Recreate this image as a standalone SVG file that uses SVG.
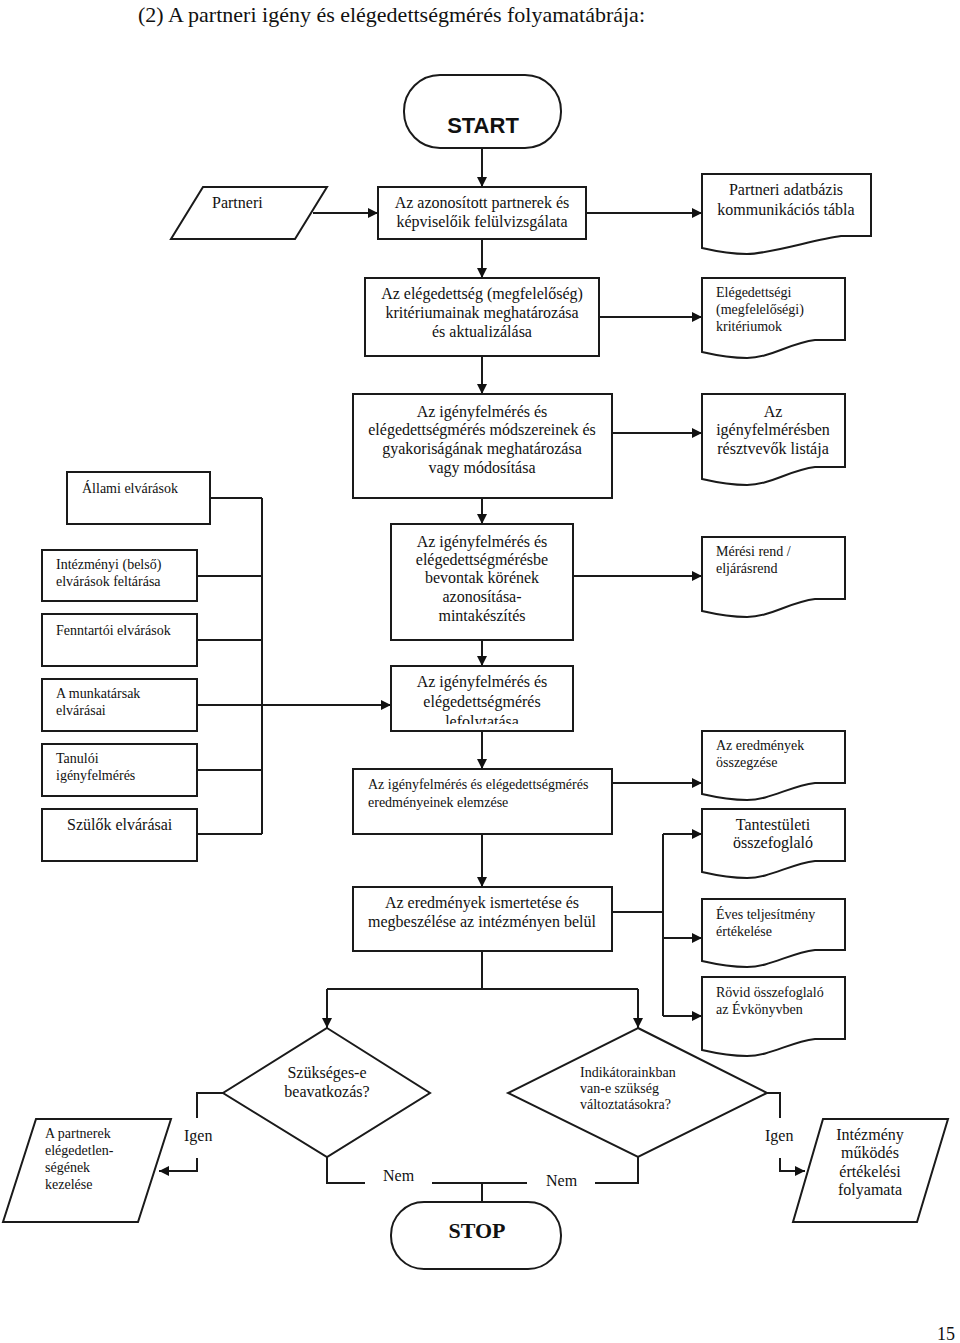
<svg xmlns="http://www.w3.org/2000/svg" width="960" height="1343" viewBox="0 0 960 1343">
<style>
.s{fill:#fff;stroke:#1a1a1a;stroke-width:2}
.c{fill:none;stroke:#1a1a1a;stroke-width:2}
text{font-family:"Liberation Serif","Times New Roman",serif;fill:#111}
.t16{font-size:16px}
.t14{font-size:14px}
.m{text-anchor:middle}
</style>
<defs>
<marker id="ah" markerWidth="10" markerHeight="10" refX="10" refY="5" orient="auto" markerUnits="userSpaceOnUse">
<path d="M0,0 L10,5 L0,10 Z" fill="#111"/>
</marker>
<clipPath id="clip5"><rect x="391" y="666" width="182" height="58"/></clipPath>
</defs>
<rect width="960" height="1343" fill="#fff"/>
<text x="138" y="22" style="font-size:22px" textLength="507" lengthAdjust="spacingAndGlyphs">(2) A partneri igény és elégedettségmérés folyamatábrája:</text>

<g id="connectors">
<path class="c" d="M482,148 V187" marker-end="url(#ah)"/>
<path class="c" d="M482,239 V278" marker-end="url(#ah)"/>
<path class="c" d="M482,356 V394" marker-end="url(#ah)"/>
<path class="c" d="M482,498 V524" marker-end="url(#ah)"/>
<path class="c" d="M482,640 V666" marker-end="url(#ah)"/>
<path class="c" d="M482,731 V769" marker-end="url(#ah)"/>
<path class="c" d="M482,834 V887" marker-end="url(#ah)"/>
<path class="c" d="M313,213 H378" marker-end="url(#ah)"/>
<path class="c" d="M586,213 H702" marker-end="url(#ah)"/>
<path class="c" d="M599,317 H702" marker-end="url(#ah)"/>
<path class="c" d="M612,433 H702" marker-end="url(#ah)"/>
<path class="c" d="M573,576 H702" marker-end="url(#ah)"/>
<path class="c" d="M612,783 H702" marker-end="url(#ah)"/>
<path class="c" d="M612,912 H663 M663,834 V1016"/>
<path class="c" d="M663,834 H702" marker-end="url(#ah)"/>
<path class="c" d="M663,938 H702" marker-end="url(#ah)"/>
<path class="c" d="M663,1016 H702" marker-end="url(#ah)"/>
<path class="c" d="M210,498 H262 M197,576 H262 M197,640 H262 M197,770 H262 M197,834 H262 M262,498 V834"/>
<path class="c" d="M197,705 H391" marker-end="url(#ah)"/>
<path class="c" d="M482,951 V989 M327,989 H638"/>
<path class="c" d="M327,989 V1028" marker-end="url(#ah)"/>
<path class="c" d="M638,989 V1028" marker-end="url(#ah)"/>
<path class="c" d="M223,1093 H197 V1118"/>
<path class="c" d="M197,1158 V1171 H159" marker-end="url(#ah)"/>
<path class="c" d="M327,1157 V1183 H365 M432,1183 H527 M595,1183 H638 V1157 M482,1183 V1202"/>
<path class="c" d="M767,1093 H780 V1118"/>
<path class="c" d="M780,1158 V1171 H805" marker-end="url(#ah)"/>
<text class="t16" x="184" y="1141">Igen</text>
<text class="t16" x="765" y="1141">Igen</text>
<text class="t16" x="383" y="1181">Nem</text>
<text class="t16" x="546" y="1186">Nem</text>
</g>

<g id="start">
<rect class="s" x="404" y="75" width="157" height="73" rx="36" ry="36"/>
<text x="483" y="133" text-anchor="middle" style="font-family:'Liberation Sans',Arial,sans-serif;font-size:22px;font-weight:bold">START</text>
</g>

<g id="partneri">
<polygon class="s" points="203,187 327,187 295,239 171,239"/>
<text class="t16" x="212" y="208">Partneri</text>
</g>

<g id="box1">
<rect class="s" x="378" y="187" width="208" height="52"/>
<text class="t16 m" x="482" y="208">Az azonosított partnerek és</text>
<text class="t16 m" x="482" y="227">képviselőik felülvizsgálata</text>
</g>

<g id="doc1">
<path class="s" d="M702,174 H871 V236 L841,236 C816,239 770,254 747,254 C730,254 715,251 702,248 Z"/>
<text class="t16 m" x="786" y="195">Partneri adatbázis</text>
<text class="t16 m" x="786" y="215">kommunikációs tábla</text>
</g>

<g id="box2">
<rect class="s" x="365" y="278" width="234" height="78"/>
<text class="t16 m" x="482" y="299">Az elégedettség (megfelelőség)</text>
<text class="t16 m" x="482" y="318">kritériumainak meghatározása</text>
<text class="t16 m" x="482" y="337">és aktualizálása</text>
</g>

<g id="doc2">
<path class="s" d="M702,278 H845 V340 L815,340 C790,343 770,358 747,358 C730,358 715,355 702,352 Z"/>
<text class="t14" x="716" y="297">Elégedettségi</text>
<text class="t14" x="716" y="314">(megfelelőségi)</text>
<text class="t14" x="716" y="331">kritériumok</text>
</g>

<g id="box3">
<rect class="s" x="353" y="394" width="259" height="104"/>
<text class="t16 m" x="482" y="417">Az igényfelmérés és</text>
<text class="t16 m" x="482" y="435">elégedettségmérés módszereinek és</text>
<text class="t16 m" x="482" y="454">gyakoriságának meghatározása</text>
<text class="t16 m" x="482" y="473">vagy módosítása</text>
</g>

<g id="doc3">
<path class="s" d="M702,394 H845 V467 L815,467 C790,470 770,485 747,485 C730,485 715,482 702,479 Z"/>
<text class="t16 m" x="773" y="417">Az</text>
<text class="t16 m" x="773" y="435">igényfelmérésben</text>
<text class="t16 m" x="773" y="454">résztvevők listája</text>
</g>

<g id="box4">
<rect class="s" x="391" y="524" width="182" height="116"/>
<text class="t16 m" x="482" y="547">Az igényfelmérés és</text>
<text class="t16 m" x="482" y="565">elégedettségmérésbe</text>
<text class="t16 m" x="482" y="583">bevontak körének</text>
<text class="t16 m" x="482" y="602">azonosítása-</text>
<text class="t16 m" x="482" y="621">mintakészítés</text>
</g>

<g id="doc4">
<path class="s" d="M702,537 H845 V599 L815,599 C790,602 770,617 747,617 C730,617 715,614 702,611 Z"/>
<text class="t14" x="716" y="556">Mérési rend /</text>
<text class="t14" x="716" y="573">eljárásrend</text>
</g>

<g id="box5">
<rect class="s" x="391" y="666" width="182" height="65"/>
<text class="t16 m" x="482" y="687">Az igényfelmérés és</text>
<text class="t16 m" x="482" y="707">elégedettségmérés</text>
<text class="t16 m" x="482" y="727" clip-path="url(#clip5)">lefolytatása</text>
</g>

<g id="box6">
<rect class="s" x="353" y="769" width="259" height="65"/>
<text class="t14" x="368" y="789">Az igényfelmérés és elégedettségmérés</text>
<text class="t14" x="368" y="807">eredményeinek elemzése</text>
</g>

<g id="doc5">
<path class="s" d="M702,731 H845 V783 L815,783 C790,786 770,800 747,800 C730,800 715,797 702,794 Z"/>
<text class="t14" x="716" y="750">Az eredmények</text>
<text class="t14" x="716" y="767">összegzése</text>
</g>

<g id="doc6">
<path class="s" d="M702,809 H845 V861 L815,861 C790,864 770,878 747,878 C730,878 715,875 702,872 Z"/>
<text class="t16 m" x="773" y="830">Tantestületi</text>
<text class="t16 m" x="773" y="848">összefoglaló</text>
</g>

<g id="box7">
<rect class="s" x="353" y="887" width="259" height="64"/>
<text class="t16 m" x="482" y="908">Az eredmények ismertetése és</text>
<text class="t16 m" x="482" y="927">megbeszélése az intézményen belül</text>
</g>

<g id="doc7">
<path class="s" d="M702,899 H845 V950 L815,950 C790,953 770,967 747,967 C730,967 715,964 702,961 Z"/>
<text class="t14" x="716" y="919">Éves teljesítmény</text>
<text class="t14" x="716" y="936">értékelése</text>
</g>

<g id="doc8">
<path class="s" d="M702,977 H845 V1039 L815,1039 C790,1042 770,1056 747,1056 C730,1056 715,1053 702,1050 Z"/>
<text class="t14" x="716" y="997">Rövid összefoglaló</text>
<text class="t14" x="716" y="1014">az Évkönyvben</text>
</g>

<g id="allami">
<rect class="s" x="67" y="472" width="143" height="52"/>
<text class="t14" x="82" y="493">Állami elvárások</text>
</g>
<g id="intezmenyi">
<rect class="s" x="42" y="550" width="155" height="51"/>
<text class="t14" x="56" y="569">Intézményi (belső)</text>
<text class="t14" x="56" y="586">elvárások feltárása</text>
</g>
<g id="fenntartoi">
<rect class="s" x="42" y="614" width="155" height="52"/>
<text class="t14" x="56" y="635">Fenntartói elvárások</text>
</g>
<g id="munkatarsak">
<rect class="s" x="42" y="679" width="155" height="52"/>
<text class="t14" x="56" y="698">A munkatársak</text>
<text class="t14" x="56" y="715">elvárásai</text>
</g>
<g id="tanuloi">
<rect class="s" x="42" y="744" width="155" height="52"/>
<text class="t14" x="56" y="763">Tanulói</text>
<text class="t14" x="56" y="780">igényfelmérés</text>
</g>
<g id="szulok">
<rect class="s" x="42" y="809" width="155" height="52"/>
<text class="t16" x="67" y="830">Szülők elvárásai</text>
</g>

<g id="decision1">
<polygon class="s" points="327,1028 430,1093 327,1157 223,1093"/>
<text class="t16 m" x="327" y="1078">Szükséges-e</text>
<text class="t16 m" x="327" y="1097">beavatkozás?</text>
</g>

<g id="decision2">
<polygon class="s" points="638,1028 767,1093 638,1157 508,1093"/>
<text class="t14" x="580" y="1077">Indikátorainkban</text>
<text class="t14" x="580" y="1093">van-e szükség</text>
<text class="t14" x="580" y="1109">változtatásokra?</text>
</g>

<g id="kezelese">
<polygon class="s" points="36,1119 171,1119 138,1222 3,1222"/>
<text class="t14" x="45" y="1138">A partnerek</text>
<text class="t14" x="45" y="1155">elégedetlen-</text>
<text class="t14" x="45" y="1172">ségének</text>
<text class="t14" x="45" y="1189">kezelése</text>
</g>

<g id="intezmeny">
<polygon class="s" points="823,1119 948,1119 917,1222 793,1222"/>
<text class="t16 m" x="870" y="1140">Intézmény</text>
<text class="t16 m" x="870" y="1158">működés</text>
<text class="t16 m" x="870" y="1177">értékelési</text>
<text class="t16 m" x="870" y="1195">folyamata</text>
</g>

<g id="stop">
<rect class="s" x="391" y="1202" width="170" height="67" rx="33" ry="33"/>
<text x="477" y="1238" text-anchor="middle" style="font-size:22px;font-weight:bold">STOP</text>
</g>

<text x="937" y="1340" style="font-size:18px">15</text>
</svg>
